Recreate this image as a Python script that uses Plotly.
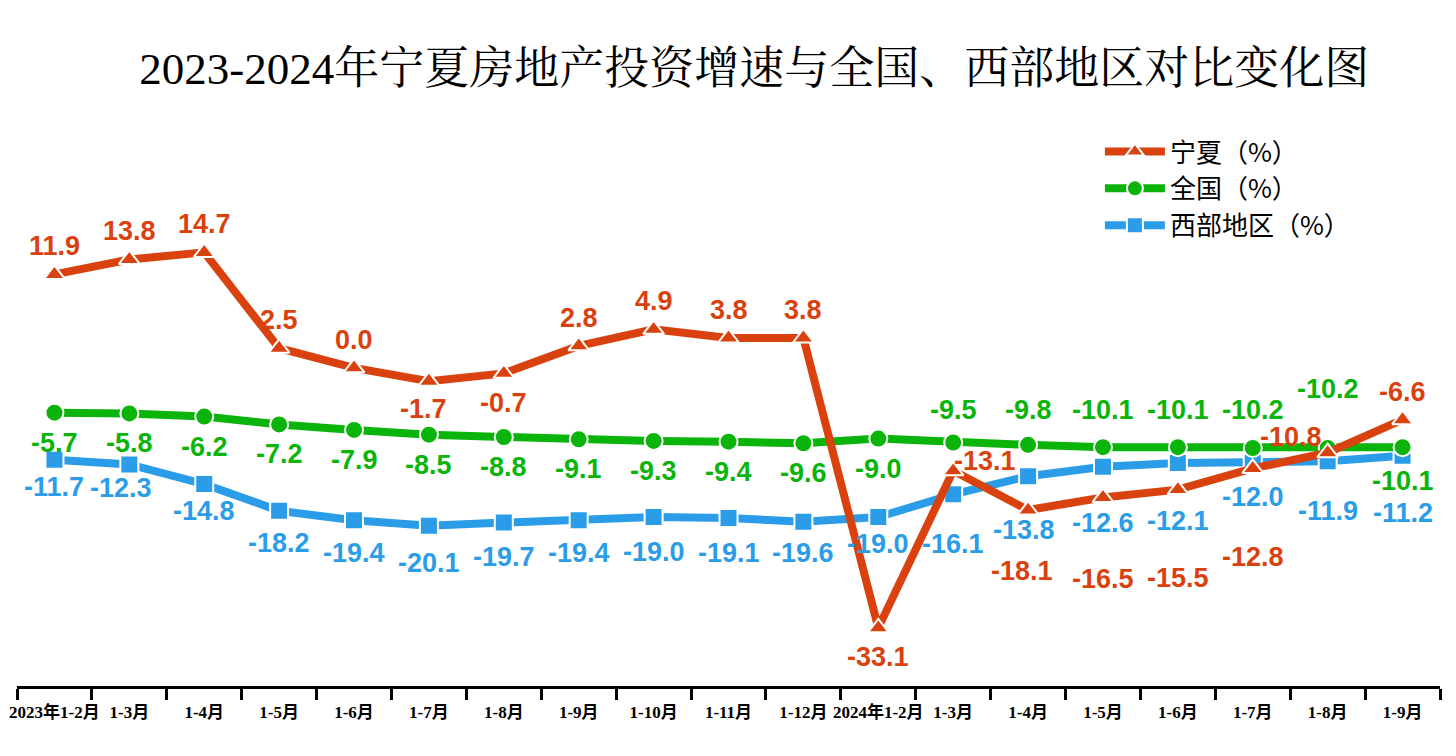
import plotly.graph_objects as go

categories = ["2023年1-2月", "1-3月", "1-4月", "1-5月", "1-6月", "1-7月", "1-8月", "1-9月",
              "1-10月", "1-11月", "1-12月", "2024年1-2月", "1-3月", "1-4月", "1-5月", "1-6月",
              "1-7月", "1-8月", "1-9月"]
ningxia = [11.9, 13.8, 14.7, 2.5, 0.0, -1.7, -0.7, 2.8, 4.9, 3.8, 3.8, -33.1, -13.1, -18.1,
           -16.5, -15.5, -12.8, -10.8, -6.6]
national = [-5.7, -5.8, -6.2, -7.2, -7.9, -8.5, -8.8, -9.1, -9.3, -9.4, -9.6, -9.0, -9.5, -9.8,
            -10.1, -10.1, -10.2, -10.2, -10.1]
western = [-11.7, -12.3, -14.8, -18.2, -19.4, -20.1, -19.7, -19.4, -19.0, -19.1, -19.6, -19.0,
           -16.1, -13.8, -12.6, -12.1, -12.0, -11.9, -11.2]

series_names = ["宁夏（%）", "全国（%）", "西部地区（%）"]
RED, GREEN, BLUE = "#D9420F", "#0AB40A", "#2B9DE8"

# label offsets (pixels) - styling only
red_shift = {5: (-5, -28), 6: (0, -30), 11: (0, -29), 12: (32, 10), 13: (-6, -61), 14: (0, -82),
             15: (0, -88), 16: (0, -89), 17: (-37, 16)}
green_shift = {12: (0, 32), 13: (0, 35), 14: (0, 37), 15: (0, 37), 16: (0, 38), 17: (0, 59),
               18: (0, -34)}
blue_shift = {1: (-8, -24), 3: (0, -32), 4: (0, -33), 5: (0, -37), 6: (0, -34), 7: (0, -33),
              8: (0, -35), 9: (0, -35), 10: (0, -31), 12: (0, -50), 13: (-4, -54), 14: (0, -56),
              15: (0, -58), 16: (0, -35), 17: (0, -50), 18: (0, -57)}

n = len(categories)
xs = list(range(n))

fig = go.Figure()

specs = [
    (western, series_names[2], BLUE, "square", 3, blue_shift, (0, -27)),
    (national, series_names[1], GREEN, "circle", 2, green_shift, (0, -30)),
    (ningxia, series_names[0], RED, "triangle-up", 1, red_shift, (0, 28)),
]
annotations = []
for vals, name, color, sym, rank, shifts, default in specs:
    fig.add_trace(go.Scatter(
        x=xs, y=vals, name=name, mode="lines+markers", legendrank=rank,
        line=dict(color=color, width=8),
        marker=dict(symbol=sym, size=18, color=color, line=dict(color="white", width=2)),
    ))
    for i, v in enumerate(vals):
        dx, dy = shifts.get(i, default)
        annotations.append(dict(
            x=i, y=v, xref="x", yref="y", text=f"{v:.1f}", showarrow=False,
            xshift=dx, yshift=dy,
            font=dict(family="Liberation Sans, Arial", size=27, color=color, weight="bold"),
        ))

# invisible trace to activate boundary-tick axis
fig.add_trace(go.Scatter(x=[-0.5, n - 0.5], y=[0, 0], xaxis="x2", mode="none",
                         showlegend=False, hoverinfo="skip"))

fig.update_layout(
    width=1456, height=756,
    margin=dict(l=17, r=16, t=100, b=70),
    paper_bgcolor="white", plot_bgcolor="white",
    title=dict(text="2023-2024年宁夏房地产投资增速与全国、西部地区对比变化图",
               x=0.518, xanchor="center", y=0.91, yanchor="middle",
               font=dict(family="Liberation Serif, Times New Roman, Noto Serif CJK SC, Noto Sans CJK SC",
                         size=45, color="black")),
    xaxis=dict(range=[-0.5, n - 0.5], tickmode="array", tickvals=xs, ticktext=categories,
               showgrid=False, zeroline=False, showline=False, ticks="outside", ticklen=11,
               tickcolor="rgba(0,0,0,0)", tickangle=0, automargin=False,
               tickfont=dict(family="Liberation Serif, Times New Roman, Noto Sans CJK SC",
                             size=17, color="black", weight="bold")),
    xaxis2=dict(range=[-0.5, n - 0.5], overlaying="x", side="bottom", anchor="y",
                tickmode="array", tickvals=[i - 0.5 for i in range(n + 1)],
                showticklabels=False, ticks="outside", ticklen=11, tickwidth=2.5,
                tickcolor="black", showline=True, linewidth=3, linecolor="black",
                showgrid=False, zeroline=False, automargin=False),
    yaxis=dict(range=[-40.5, 34.1], visible=False, automargin=False),
    legend=dict(x=0.761, y=0.952, xanchor="left", yanchor="top",
                font=dict(family="Noto Sans CJK SC", size=26, color="black"),
                itemwidth=60, bgcolor="rgba(0,0,0,0)"),
    annotations=annotations,
    showlegend=True,
)

fig.write_html("out.html")
